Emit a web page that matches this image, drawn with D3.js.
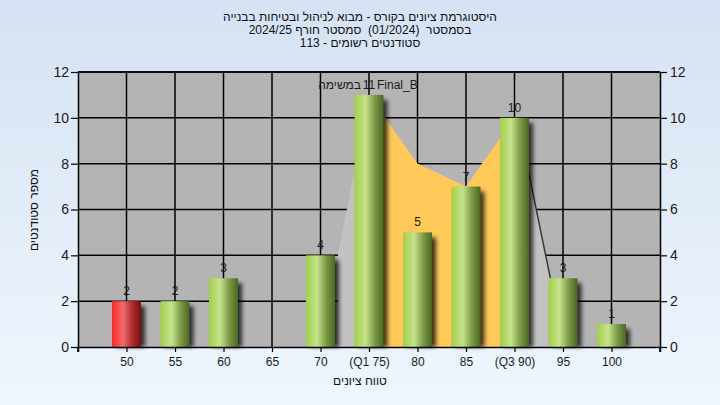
<!DOCTYPE html>
<html><head><meta charset="utf-8">
<script src="https://cdn.jsdelivr.net/npm/d3@7"></script>
<style>
html,body{margin:0;padding:0;}
svg{display:block;font-family:"Liberation Sans",Arial,sans-serif;}
</style></head>
<body>
<script>
// ---- data ----
const titleLines = [
  "היסטוגרמת ציונים בקורס - מבוא לניהול ובטיחות בבנייה",
  "בסמסטר  (01/2024)  סמסטר חורף 2024/25",
  "סטודנטים רשומים - 113"
];
const grades = [50, 55, 60, 65, 70, 75, 80, 85, 90, 95, 100];
const tickLabels = ["50", "55", "60", "65", "70", "(Q1 75)", "80", "85", "(Q3 90)", "95", "100"];
const counts = [2, 2, 3, 0, 4, 11, 5, 7, 10, 3, 1];
const failingGrades = [50];
const quartiles = [75, 90];
const curveX = [71.8, 75, 80, 85, 90, 90.3, 93.7];
const curveY = [4, 11, 8, 7, 10, 10, 3];
const yTicks = [0, 2, 4, 6, 8, 10, 12];
const markerGrade = 75;
const markerTextHe = "במשימה";
const markerTextEn = "Final_B";
const xTitle = "טווח ציונים";
const yTitle = "מספר סטודנטים";

// ---- layout ----
const W = 720, H = 405;
const L = 78, R = 660, T = 72, B = 347;
const svg = d3.select("body").append("svg").attr("width", W).attr("height", H);
const defs = svg.append("defs");

const bg = defs.append("linearGradient").attr("id", "bg").attr("x1", 0).attr("y1", 0).attr("x2", 0).attr("y2", 1);
bg.append("stop").attr("offset", 0).attr("stop-color", "#d5e2f3");
bg.append("stop").attr("offset", 1).attr("stop-color", "#eff6fd");
svg.append("rect").attr("width", W).attr("height", H).attr("fill", "url(#bg)");

function barGrad(id, c0, c1, c2, c3) {
  const g = defs.append("linearGradient").attr("id", id).attr("x1", 0).attr("y1", 0).attr("x2", 1).attr("y2", 0);
  g.append("stop").attr("offset", 0).attr("stop-color", c0);
  g.append("stop").attr("offset", 0.38).attr("stop-color", c1);
  g.append("stop").attr("offset", 0.7).attr("stop-color", c2);
  g.append("stop").attr("offset", 1).attr("stop-color", c3);
}
barGrad("gGreen", "#a2d048", "#c6e38e", "#7c9a44", "#4a6626");
barGrad("gRed", "#ff2424", "#f06c6c", "#b02c2c", "#761010");

const blur = defs.append("filter").attr("id", "shadow").attr("x", "-50%").attr("y", "-20%").attr("width", "200%").attr("height", "140%");
blur.append("feGaussianBlur").attr("stdDeviation", 2);

const x = d3.scaleLinear().domain([45, 105]).range([L, R]);
const y = d3.scaleLinear().domain([0, 12]).range([B, T]);

// plot background
svg.append("rect").attr("x", L).attr("y", T).attr("width", R - L).attr("height", B - T).attr("fill", "#b4b4b4");

// grid
const grid = svg.append("g").attr("stroke", "#000").attr("stroke-width", 1.5);
grid.selectAll("line.h").data(yTicks.slice(1)).join("line")
  .attr("x1", L).attr("x2", R).attr("y1", d => y(d)).attr("y2", d => y(d));
grid.selectAll("line.v").data(grades).join("line").attr("class", "v")
  .attr("x1", d => x(d)).attr("x2", d => x(d)).attr("y1", T).attr("y2", B);

// curve area
const pts = curveX.map((v, i) => [v, curveY[i]]);
const area = d3.area().x(d => x(d[0])).y0(y(0)).y1(d => y(d[1]));
svg.append("path").datum(pts).attr("d", area).attr("fill", "#c2c2c2");
defs.append("clipPath").attr("id", "iqr").append("rect")
  .attr("x", x(quartiles[0])).attr("y", T).attr("width", x(quartiles[1]) - x(quartiles[0])).attr("height", B - T);
svg.append("path").datum(pts).attr("d", area).attr("fill", "#ffc95a").attr("clip-path", "url(#iqr)");
svg.append("path").datum(pts.filter(d => d[0] > quartiles[1]))
  .attr("d", d3.line().x(d => x(d[0])).y(d => y(d[1])))
  .attr("fill", "none").attr("stroke", "#3a3a3a").attr("stroke-width", 1.5);

// bars
const bw = 29;
const data = grades.map((g, i) => ({g, c: counts[i]})).filter(d => d.c > 0);
svg.append("g").selectAll("rect").data(data).join("rect")
  .attr("x", d => x(d.g) - bw / 2 + 4).attr("y", d => y(d.c) + 5)
  .attr("width", bw).attr("height", d => y(0) - y(d.c) - 5)
  .attr("fill", "#000").attr("opacity", 0.75).attr("filter", "url(#shadow)");
svg.append("g").selectAll("rect").data(data).join("rect")
  .attr("x", d => x(d.g) - bw / 2).attr("y", d => y(d.c))
  .attr("width", bw).attr("height", d => y(0) - y(d.c))
  .attr("fill", d => failingGrades.includes(d.g) ? "url(#gRed)" : "url(#gGreen)");

// axes
const axB = svg.append("g").attr("transform", `translate(0,${B})`)
  .call(d3.axisBottom(x).tickValues(grades).tickFormat((d, i) => tickLabels[i]).tickSize(5).tickPadding(5));
axB.select(".domain").attr("stroke-width", 1.5);
axB.selectAll(".tick line").attr("stroke-width", 1.2);
axB.selectAll("text").attr("font-size", 12).attr("fill", "#1a1a1a").attr("font-family", "Liberation Sans, Arial, sans-serif");

const axL = svg.append("g").attr("transform", `translate(${L},0)`)
  .call(d3.axisLeft(y).tickValues(yTicks).tickSize(7).tickPadding(2).tickSizeOuter(0));
const axR = svg.append("g").attr("transform", `translate(${R},0)`)
  .call(d3.axisRight(y).tickValues(yTicks).tickSize(7).tickPadding(3).tickSizeOuter(0));
[axL, axR].forEach(a => {
  a.select(".domain").attr("stroke-width", 1.5);
  a.selectAll(".tick line").attr("stroke-width", 1.2);
  a.selectAll("text").attr("font-size", 14).attr("fill", "#1a1a1a").attr("font-family", "Liberation Sans, Arial, sans-serif");
});
svg.append("line").attr("x1", L).attr("x2", R).attr("y1", T).attr("y2", T).attr("stroke", "#000").attr("stroke-width", 1.5);
svg.append("line").attr("x1", L).attr("x2", L).attr("y1", B).attr("y2", B + 5).attr("stroke", "#000").attr("stroke-width", 1.5);
svg.append("line").attr("x1", R).attr("x2", R).attr("y1", B).attr("y2", B + 5).attr("stroke", "#000").attr("stroke-width", 1.5);

// bar labels
svg.append("g").selectAll("text").data(data).join("text")
  .attr("x", d => x(d.g)).attr("y", d => y(d.c) - 6)
  .attr("text-anchor", "middle").attr("font-size", 12).attr("fill", "#1a1a1a")
  .text(d => d.c);

// marker label
const mi = grades.indexOf(markerGrade);
svg.append("text").attr("x", x(markerGrade) - 8).attr("y", y(counts[mi]) - 6)
  .attr("text-anchor", "end").attr("font-size", 12).attr("fill", "#1a1a1a").text(markerTextHe);
svg.append("text").attr("x", x(markerGrade) + 8).attr("y", y(counts[mi]) - 6)
  .attr("text-anchor", "start").attr("font-size", 12).attr("fill", "#1a1a1a").text(markerTextEn);

// titles
svg.append("g").selectAll("text").data(titleLines).join("text")
  .attr("x", 360).attr("y", (d, i) => 21 + i * 13)
  .attr("text-anchor", "middle").attr("direction", "rtl").attr("unicode-bidi", "embed")
  .style("white-space", "pre")
  .attr("font-size", 12).attr("fill", "#111").text(d => d);

svg.append("text").attr("x", 360).attr("y", 385).attr("text-anchor", "middle")
  .attr("font-size", 12).attr("fill", "#111").text(xTitle);
svg.append("text").attr("transform", "translate(38,210) rotate(-90)").attr("text-anchor", "middle")
  .attr("font-size", 12).attr("fill", "#111").text(yTitle);
</script>
</body></html>
